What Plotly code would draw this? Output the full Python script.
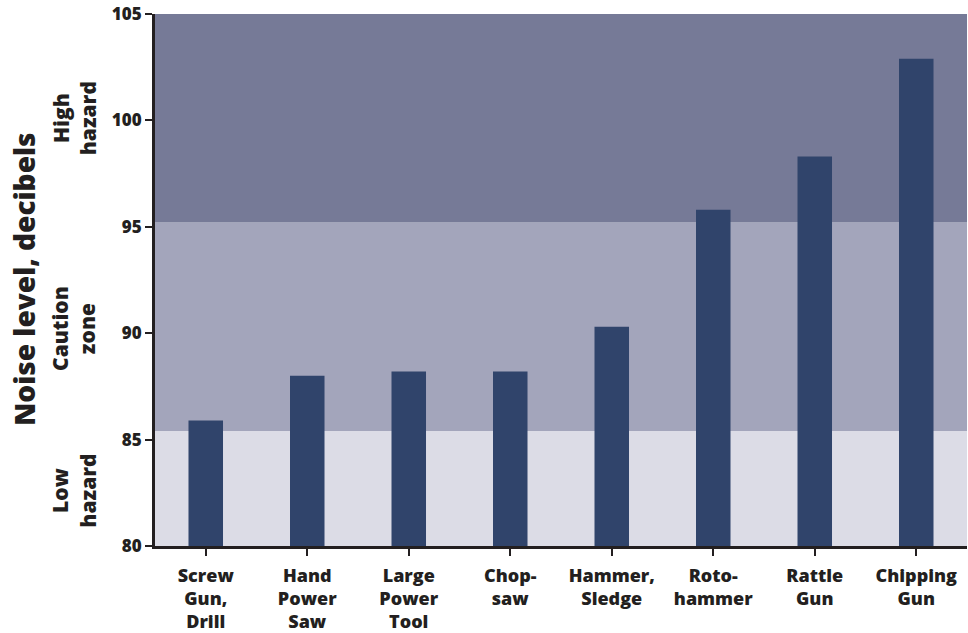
import plotly.graph_objects as go

categories = ["Screw<br>Gun,<br>Drill", "Hand<br>Power<br>Saw", "Large<br>Power<br>Tool", "Chop-<br>saw",
              "Hammer,<br>Sledge", "Roto-<br>hammer", "Rattle<br>Gun", "Chipping<br>Gun"]
noise_db = [85.9, 88.0, 88.2, 88.2, 90.3, 95.8, 98.3, 102.9]
y_ticks = [80, 85, 90, 95, 100, 105]
zone_names = ["Low<br>hazard", "Caution<br>zone", "High<br>hazard"]
zone_bounds = [80, 85.4, 95.2, 105]
zone_label_y = [82.6, 90.2, 100.1]
zone_colors = ["#dcdce6", "#a3a5bb", "#767a97"]

FONT = "Open Sans"
INK = "#231f20"
fig = go.Figure()
fig.add_trace(go.Bar(x=list(range(len(categories))), y=[v - 80 for v in noise_db], base=80,
                     width=0.34, marker=dict(color="#30446b", line=dict(width=0))))

shapes = []
annotations = []
for i, name in enumerate(zone_names):
    shapes.append(dict(type="rect", xref="paper", yref="y", x0=0, x1=1,
                       y0=zone_bounds[i], y1=zone_bounds[i + 1],
                       fillcolor=zone_colors[i], line=dict(width=0), layer="below"))
    annotations.append(dict(text=name, xref="paper", yref="y", x=0, y=zone_label_y[i],
                            xshift=-81, textangle=-90, showarrow=False, xanchor="center",
                            yanchor="middle",
                            font=dict(family=FONT, size=21, color=INK, weight=800)))
annotations.append(dict(text="Noise level, decibels", xref="paper", yref="paper", x=0, y=0.5,
                        xshift=-131, textangle=-90, showarrow=False, xanchor="center",
                        font=dict(family=FONT, size=28, color=INK, weight=800)))

fig.update_layout(
    width=968, height=633, margin=dict(l=155, r=1, t=14, b=87),
    plot_bgcolor="white", paper_bgcolor="white", showlegend=False,
    shapes=shapes, annotations=annotations,
    xaxis=dict(tickmode="array", tickvals=list(range(len(categories))), ticktext=categories,
               range=[-0.5, len(categories) - 0.5], tickson="boundaries",
               ticks="outside", ticklen=7, tickwidth=2, tickcolor=INK,
               showline=True, linewidth=3, linecolor=INK, showgrid=False,
               ticklabelstandoff=4,
               tickfont=dict(family=FONT, size=18, color=INK, weight=800)),
    yaxis=dict(range=[80, 105], tickvals=y_ticks, ticks="outside", ticklen=7, tickwidth=2,
               tickcolor=INK, showline=True, linewidth=3, linecolor=INK,
               showgrid=False, zeroline=False,
               tickfont=dict(family=FONT, size=17, color=INK, weight=800)),
)
fig.write_html("out.html")
